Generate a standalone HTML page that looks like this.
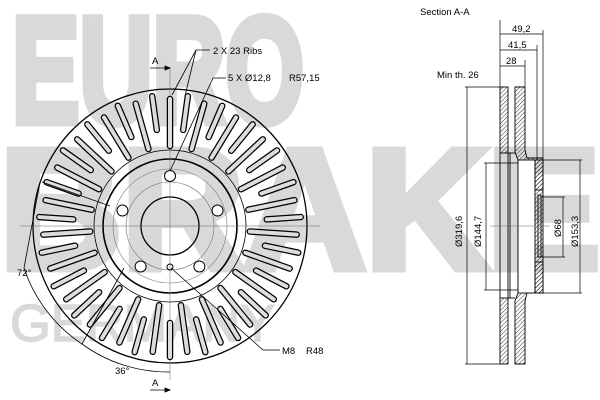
<!DOCTYPE html>
<html><head><meta charset="utf-8"><style>
html,body{margin:0;padding:0;background:#fff;width:600px;height:400px;overflow:hidden}
svg{display:block}
text{font-family:"Liberation Sans",sans-serif}
</style></head><body>
<svg id="s" width="600" height="400" viewBox="0 0 600 400" xmlns="http://www.w3.org/2000/svg">
<defs>
<pattern id="h" width="3" height="3" patternUnits="userSpaceOnUse" patternTransform="rotate(45)">
<line x1="0" y1="0" x2="0" y2="3" stroke="#000" stroke-width="0.8"/></pattern>
</defs>
<g fill="#d9d9d9" stroke="#d9d9d9" stroke-width="9" stroke-linejoin="miter" font-weight="bold">
<text x="12" y="122" font-size="150" textLength="292" lengthAdjust="spacingAndGlyphs">EURO</text>
<text x="0" y="268" font-size="170" textLength="600" lengthAdjust="spacingAndGlyphs">BRAKE</text>
</g>
<text x="10" y="341" font-size="52" fill="#d9d9d9" stroke="#d9d9d9" stroke-width="1.5" textLength="265" lengthAdjust="spacingAndGlyphs">GERMANY</text>
<g id="disc" fill="none" stroke="#000">
<circle cx="170" cy="226" r="137" stroke-width="1.3"/>
<circle cx="170" cy="226" r="67" stroke-width="1.6"/>
<circle cx="170" cy="226" r="29" stroke-width="1.3"/>
<circle cx="170" cy="226" r="76" stroke-width="0.8"/>
<circle cx="170" cy="226" r="57" stroke="#777" stroke-width="0.6"/>
<circle cx="170" cy="226" r="44" stroke="#777" stroke-width="0.6"/>
<line x1="20" y1="226" x2="320" y2="226" stroke="#666" stroke-width="0.5"/>
<line x1="170" y1="68" x2="170" y2="380" stroke="#666" stroke-width="0.5"/>
<circle cx="170" cy="267" r="3" stroke-width="1"/>
</g>
<g id="ribs"></g>
<g fill="none" stroke="#000" stroke-width="0.8">
<path d="M 24 268 A 147 147 0 0 0 82 344" />
<path d="M 82 344 A 146 146 0 0 0 170 372"/>
<line x1="40" y1="182" x2="24" y2="268"/>
<line x1="42" y1="182" x2="110" y2="206"/>
<line x1="82" y1="344" x2="124" y2="268"/>
<polyline points="172,95 196,50 210,50"/>
<line x1="185" y1="96" x2="196" y2="50"/>
<polyline points="170,171 213,78 226,78"/>
<polyline points="171,268 263,350 280,350"/>
<line x1="150" y1="68" x2="168" y2="68"/>
<path d="M165 66 L170 68 L165 70Z" fill="#000"/>
<line x1="150" y1="390" x2="168" y2="390"/>
<path d="M165 388 L170 390 L165 392Z" fill="#000"/>
</g>
<g font-size="9.5" fill="#000">
<text x="213" y="54">2 X 23 Ribs</text>
<text x="228" y="81">5 X Ø12,8</text>
<text x="289" y="81">R57,15</text>
<text x="282" y="354">M8</text>
<text x="306" y="354">R48</text>
<text x="17" y="276">72°</text>
<text x="115" y="374">36°</text>
<text x="152" y="64">A</text>
<text x="152" y="386">A</text>
<text x="420" y="15">Section A-A</text>
<text x="437" y="78">Min th. 26</text>
<text x="512" y="32">49,2</text>
<text x="508" y="48">41,5</text>
<text x="506" y="64">28</text>
<text transform="translate(462,247) rotate(-90)">Ø319,6</text>
<text transform="translate(481,247) rotate(-90)">Ø144,7</text>
<text transform="translate(561,237) rotate(-90)">Ø68</text>
<text transform="translate(578,247) rotate(-90)">Ø153,3</text>
</g>
<g stroke="#000" stroke-width="0.9">
<rect x="500" y="87" width="8" height="66" fill="url(#h)"/>
<rect x="500" y="298" width="8" height="66" fill="url(#h)"/>
<path d="M515 87 H525 V150 L527 158 H543 V293 H527 L525 301 V364 H515 V301 L518 293 V160 L515 152 Z" fill="url(#h)"/>
<rect x="518" y="160" width="17" height="133" fill="#fff"/>
<rect x="535" y="160" width="8" height="30" fill="url(#h)"/>
<rect x="535" y="262" width="8" height="31" fill="url(#h)"/>
<rect x="538" y="195" width="3" height="62" fill="none"/>
<line x1="508" y1="153" x2="515" y2="153"/>
<line x1="508" y1="298" x2="515" y2="298"/>
<line x1="508" y1="153" x2="508" y2="298"/>
<line x1="500" y1="153" x2="500" y2="298"/>
<line x1="510" y1="153" x2="510" y2="298"/>
</g>
<g stroke="#000" stroke-width="0.7" fill="none">
<line x1="500" y1="20" x2="500" y2="87"/>
<line x1="543" y1="30" x2="543" y2="158"/>
<line x1="537" y1="45" x2="537" y2="160"/>
<line x1="525" y1="60" x2="525" y2="87"/>
<line x1="500" y1="34" x2="543" y2="34"/>
<line x1="500" y1="50" x2="537" y2="50"/>
<line x1="500" y1="66" x2="525" y2="66"/>
<line x1="465" y1="87" x2="500" y2="87"/>
<line x1="465" y1="364" x2="500" y2="364"/>
<line x1="467" y1="87" x2="467" y2="364"/>
<line x1="484" y1="163" x2="518" y2="163"/>
<line x1="484" y1="290" x2="518" y2="290"/>
<line x1="486" y1="163" x2="486" y2="290"/>
<line x1="541" y1="197" x2="565" y2="197"/>
<line x1="541" y1="257" x2="565" y2="257"/>
<line x1="563" y1="197" x2="563" y2="257"/>
<line x1="543" y1="160" x2="582" y2="160"/>
<line x1="543" y1="293" x2="582" y2="293"/>
<line x1="580" y1="160" x2="580" y2="293"/>
<line x1="490" y1="226" x2="550" y2="226" stroke="#666" stroke-width="0.5"/>
</g>
</svg>
<script>
var g=document.getElementById('ribs'),cx=170,cy=226,o='';
for(var i=0;i<46;i++){var a=i*2*Math.PI/46-Math.PI/2,r1=(i%2==0)?80:97,r2=(i%2==0)?127:131;
var c=Math.cos(a),s=Math.sin(a);
o+='<line x1="'+(cx+r1*c)+'" y1="'+(cy+r1*s)+'" x2="'+(cx+r2*c)+'" y2="'+(cy+r2*s)+'" stroke="#000" stroke-width="6.5" stroke-linecap="round"/>';
o+='<line x1="'+(cx+r1*c)+'" y1="'+(cy+r1*s)+'" x2="'+(cx+r2*c)+'" y2="'+(cy+r2*s)+'" stroke="#ddd" stroke-width="4" stroke-linecap="round"/>';}
for(var j=0;j<5;j++){var b=j*2*Math.PI/5-Math.PI/2;
o+='<circle cx="'+(cx+50*Math.cos(b))+'" cy="'+(cy+50*Math.sin(b))+'" r="5.5" fill="#fff" stroke="#000" stroke-width="1"/>';}
g.innerHTML=o;
</script>
</body></html>
